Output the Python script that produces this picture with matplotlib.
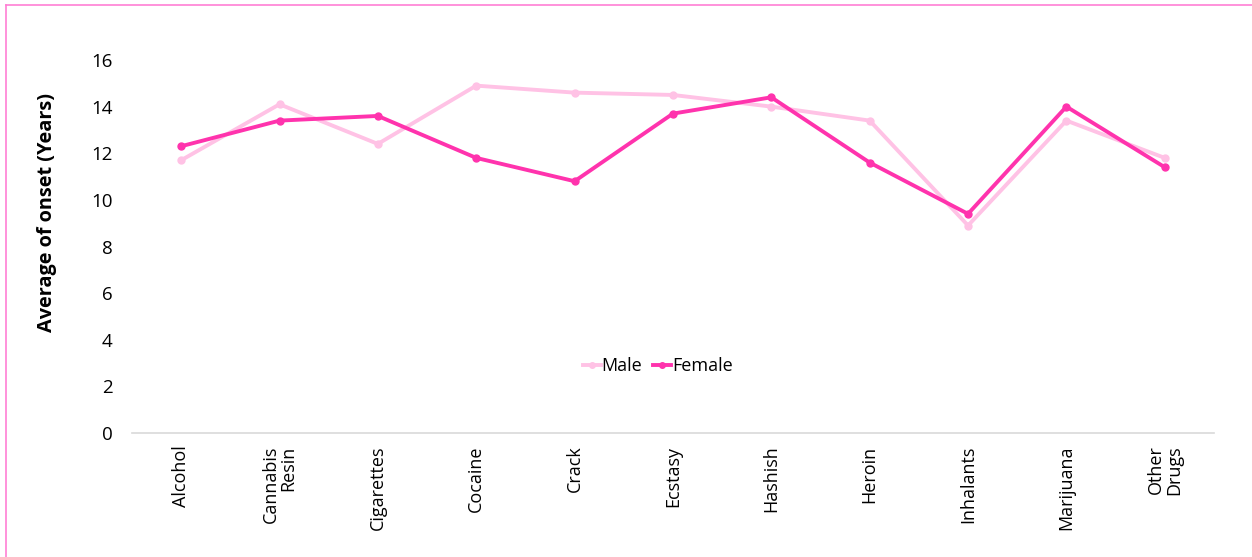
import matplotlib
matplotlib.use("Agg")
import matplotlib.pyplot as plt
from matplotlib.lines import Line2D

categories = ["Alcohol", "Cannabis\nResin", "Cigarettes", "Cocaine", "Crack", "Ecstasy",
              "Hashish", "Heroin", "Inhalants", "Marijuana", "Other\nDrugs"]
male = [11.7, 14.1, 12.4, 14.9, 14.6, 14.5, 14.0, 13.4, 8.9, 13.4, 11.8]
female = [12.3, 13.4, 13.6, 11.8, 10.8, 13.7, 14.4, 11.6, 9.4, 14.0, 11.4]
yticks = [0, 2, 4, 6, 8, 10, 12, 14, 16]

plt.rcParams["font.family"] = ["Open Sans", "DejaVu Sans"]

W, H = 1252, 557
fig = plt.figure(figsize=(W / 100, H / 100), dpi=100)
ax = fig.add_axes([0.1054, 0.2226, 0.8642, 0.6697])

x = list(range(len(categories)))
ax.plot(x, male, color="#FFC2E5", lw=2.8, marker="o", ms=5, label="Male",
        solid_joinstyle="round", clip_on=False, zorder=2)
ax.plot(x, female, color="#FF33AD", lw=2.8, marker="o", ms=5, label="Female",
        solid_joinstyle="round", clip_on=False, zorder=3)

ax.set_xlim(-0.5, len(categories) - 0.5)
ax.set_ylim(0, 16)
ax.set_yticks(yticks)
ax.set_yticklabels([str(v) for v in yticks], fontsize=13.5)
ax.set_xticks(x)
ax.set_xticklabels(categories, rotation=90, fontsize=13, ha="center", va="top",
                   multialignment="right", linespacing=1.0)
ax.tick_params(axis="both", length=0)
ax.tick_params(axis="y", pad=14)
ax.tick_params(axis="x", pad=9)

for s in ["top", "right", "left"]:
    ax.spines[s].set_visible(False)
ax.spines["bottom"].set_color("#D9D9D9")
ax.spines["bottom"].set_linewidth(1.2)

fig.text(47 / W, 1 - 213 / H, "Average of onset (Years)", rotation=90, fontsize=14.3,
         fontweight="bold", ha="center", va="center")

ax.legend(loc="center", bbox_to_anchor=(0.486, 0.18), ncol=2, frameon=False,
          fontsize=13, handlelength=1.0, handletextpad=0.05, columnspacing=0.6,
          markerscale=0.8)

# outer pink frame along the left and top edges
fig.add_artist(Line2D([6 / W, 6 / W], [0, 1 - 5 / H], transform=fig.transFigure,
                      color="#FF7FD4", lw=1.2))
fig.add_artist(Line2D([6 / W, 1], [1 - 5 / H, 1 - 5 / H], transform=fig.transFigure,
                      color="#FF7FD4", lw=1.2))

fig.savefig("out.png", dpi=100, facecolor="white")
